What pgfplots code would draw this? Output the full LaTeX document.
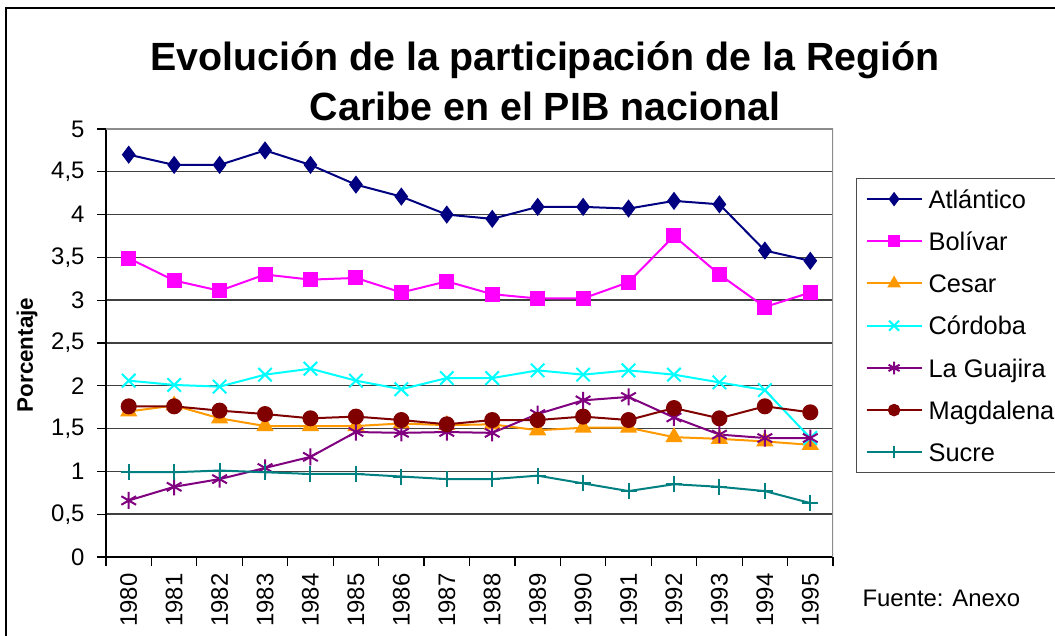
\documentclass[border=0pt]{standalone}
\usepackage{fontspec}
\setmainfont{Liberation Sans}
\usepackage{pgfplots}
\usepackage{pgfplotstable}
\pgfplotsset{compat=1.18}
\definecolor{cAtl}{HTML}{000080}
\definecolor{cBol}{HTML}{FF00FF}
\definecolor{cCes}{HTML}{FF9900}
\definecolor{cCor}{HTML}{00FFFF}
\definecolor{cGua}{HTML}{800080}
\definecolor{cMag}{HTML}{800000}
\definecolor{cSuc}{HTML}{008080}
\pgfplotstableread{
x Atl Bol Ces Cor Gua Mag Suc
0 4.70 3.49 1.70 2.06 0.66 1.76 0.99
1 4.58 3.23 1.77 2.01 0.82 1.76 0.99
2 4.58 3.11 1.62 1.99 0.91 1.71 1.01
3 4.75 3.30 1.53 2.13 1.04 1.67 0.99
4 4.58 3.24 1.53 2.20 1.17 1.62 0.97
5 4.35 3.26 1.53 2.06 1.46 1.64 0.97
6 4.21 3.09 1.56 1.96 1.45 1.60 0.94
7 4.00 3.22 1.54 2.09 1.46 1.55 0.91
8 3.95 3.07 1.55 2.09 1.45 1.60 0.91
9 4.09 3.02 1.48 2.18 1.67 1.60 0.95
10 4.09 3.02 1.51 2.13 1.83 1.64 0.86
11 4.07 3.21 1.51 2.18 1.87 1.60 0.77
12 4.16 3.75 1.40 2.13 1.63 1.74 0.85
13 4.12 3.30 1.38 2.04 1.43 1.62 0.82
14 3.58 2.92 1.35 1.95 1.39 1.76 0.77
15 3.46 3.09 1.31 1.39 1.39 1.69 0.63
}\data
\begin{document}
\begin{tikzpicture}[x=1bp,y=1bp]
\useasboundingbox (0,0) rectangle (1055,636);
\fill[white] (0,0) rectangle (1055,636);
\draw[line width=1.5bp] (6,-20) -- (6,628) -- (1080,628);
\node[font=\fontsize{39.5}{45}\bfseries\selectfont, anchor=base] at (545,565) {Evolución de la participación de la Región};
\node[font=\fontsize{39.5}{45}\bfseries\selectfont, anchor=base] at (545,515) {Caribe en el PIB nacional};
\node[font=\fontsize{22.5}{26}\bfseries\selectfont, rotate=90] at (27,281) {Porcentaje};
\node[font=\fontsize{24}{28}\selectfont, anchor=base west] at (859,29) {Fuente: Anexo};
\begin{axis}[
  at={(106bp,79bp)}, anchor=south west,
  scale only axis, width=727bp, height=428bp,
  xmin=-0.5, xmax=15.5, ymin=0, ymax=5,
  axis x line*=bottom, axis y line*=left,
  axis line style={black, line width=1.5bp},
  ytick={0,0.5,...,5},
  yticklabel style={xshift=-9bp, /pgf/number format/.cd, use comma, fixed, precision=1, assume math mode=true},
  ymajorgrids,
  major grid style={color=black!75, line width=1.4bp},
  xtick={0,1,...,15},
  xticklabels={1980,1981,1982,1983,1984,1985,1986,1987,1988,1989,1990,1991,1992,1993,1994,1995},
  xticklabel style={rotate=90, anchor=east, xshift=-4bp},
  minor xtick={-0.5,0.5,...,15.5},
  tick align=outside,
  major tick length=9bp,
  minor tick length=9bp,
  major x tick style={draw=none},
  tick style={black, line width=1.2bp},
  tick label style={font=\fontsize{24}{28}\selectfont},
  legend style={at={(axis description cs:1.0316,0.8855)}, anchor=north west,
    draw=black!70, line width=1.2bp, fill=white,
    font=\fontsize{25.5}{30}\selectfont,
    inner xsep=9bp, inner ysep=8.7bp, row sep=18.6bp, column sep=6bp,
    nodes={inner sep=0pt, text height=21bp, text depth=2.6bp}},
  legend cell align=left,
  legend image code/.code={\draw[mark repeat=2,mark phase=2,#1,mark options={scale=0.75}] plot coordinates {(0bp,0bp)(27.5bp,0bp)(55bp,0bp)};},
  every axis plot/.append style={line width=2bp},
]
\draw[black!45, line width=1.5bp] (rel axis cs:1,0) -- (rel axis cs:1,1) -- (rel axis cs:0,1);
\addplot[color=cAtl, mark=diamond*, mark size=7.5bp] table[x=x,y=Atl]{\data};
\addlegendentry{Atlántico}
\addplot[color=cBol, mark=square*, mark size=6.5bp] table[x=x,y=Bol]{\data};
\addlegendentry{Bolívar}
\addplot[color=cCes, mark=triangle*, mark size=8bp] table[x=x,y=Ces]{\data};
\addlegendentry{Cesar}
\addplot[color=cCor, mark=x, mark size=9.5bp] table[x=x,y=Cor]{\data};
\addlegendentry{Córdoba}
\addplot[color=cGua, mark=asterisk, mark size=8.5bp] table[x=x,y=Gua]{\data};
\addlegendentry{La Guajira}
\addplot[color=cMag, mark=*, mark size=7bp] table[x=x,y=Mag]{\data};
\addlegendentry{Magdalena}
\addplot[color=cSuc, mark=+, mark size=8bp] table[x=x,y=Suc]{\data};
\addlegendentry{Sucre}
\end{axis}
\end{tikzpicture}
\end{document}
